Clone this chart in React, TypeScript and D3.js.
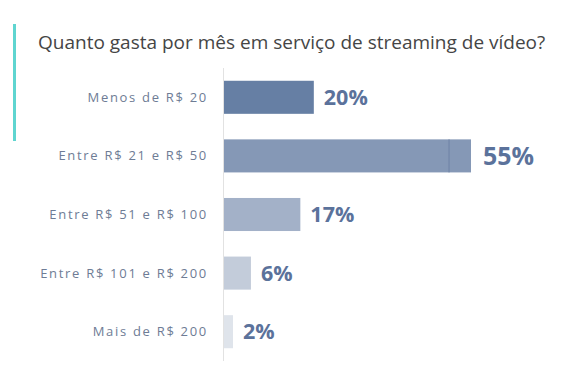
// Horizontal bar chart: monthly spend on video streaming (share of respondents).

import * as d3 from "d3";

const TITLE = "Quanto gasta por mês em serviço de streaming de vídeo?";
const categories = [
  "Menos de R$ 20",
  "Entre R$ 21 e R$ 50",
  "Entre R$ 51 e R$ 100",
  "Entre R$ 101 e R$ 200",
  "Mais de R$ 200",
];
const shares = [20, 55, 17, 6, 2];
const barColors = ["#667fa4", "#8598b6", "#a3b1c8", "#c3ccda", "#dfe4eb"];

const W = 573, H = 388;
const FONT = "'Open Sans', 'Noto Sans', sans-serif";

export default function App() {
  const x = d3.scaleLinear().domain([0, 55]).range([224, 471]);
  const y = d3.scaleBand<string>().domain(categories).range([68, 361])
    .paddingInner(0.436).paddingOuter(0.218);
  const top = d3.max(shares) ?? 0;

  return (
    <>
      <style>{"body{margin:0}"}</style>
      <svg width={W} height={H} style={{ display: "block", background: "#fff" }}>
        <rect x={13} y={24} width={3} height={117} fill="#5fd5d0" />
        <text x={38} y={49} fontFamily={FONT} fontSize={19} fill="#454545">{TITLE}</text>

        <line x1={223.5} x2={223.5} y1={68} y2={361} stroke="#e2e2e2" strokeWidth={1} />

        {categories.map((c, i) => {
          const y0 = y(c) ?? 0;
          const bw = y.bandwidth();
          const big = shares[i] === top;
          return (
            <g key={c}>
              <text x={208} y={y0 + bw / 2} dy="0.35em" textAnchor="end"
                    fontFamily={FONT} fontSize={13} letterSpacing={1.7} fill="#6e7c95">{c}</text>
              <rect x={x(0)} y={y0} width={x(shares[i]) - x(0)} height={bw} fill={barColors[i]} />
              {shares[i] > 50 && (
                <line x1={x(50) + 0.5} x2={x(50) + 0.5} y1={y0} y2={y0 + bw}
                      stroke="#6e82a5" strokeWidth={1} />
              )}
              <text x={x(shares[i]) + (big ? 12 : 10)} y={y0 + bw / 2} dy="0.36em"
                    fontFamily={FONT} fontWeight={700} fontSize={big ? 25 : 21.5}
                    fill="#5b729b">{shares[i]}%</text>
            </g>
          );
        })}
      </svg>
    </>
  );
}
